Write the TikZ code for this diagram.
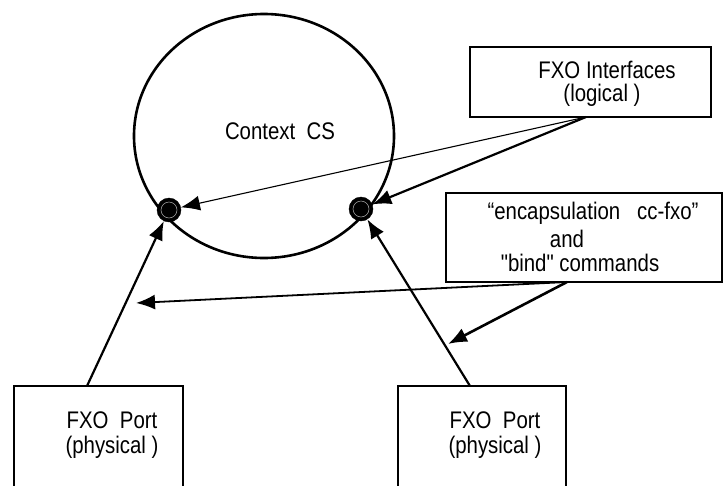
\documentclass[tikz,border=0pt]{standalone}
\usepackage{fontspec}
\setmainfont{Liberation Sans}[FakeStretch=0.85]
\newfontfamily\rawquote{Liberation Sans}[FakeStretch=0.85]
\usetikzlibrary{arrows.meta,shapes.geometric}
\tikzset{
  box/.style={draw,line width=1.7pt,rectangle,inner sep=0pt},
  lbl/.style={inner sep=0pt,font=\fontsize{24}{26}\selectfont},
  dotnode/.style={circle,fill=black,draw=black,minimum size=24pt,inner sep=0pt,
    path picture={\draw[gray!60,line width=0.5pt] (path picture bounding box.center) circle (8pt);}},
  arr/.style={-{Latex[length=19pt,width=15pt]},line width=2.2pt},
}
\begin{document}
\begin{tikzpicture}[x=1pt,y=-1pt]
\useasboundingbox (0,0) rectangle (723,485);
% context circle
\node[draw,ellipse,line width=2.6pt,minimum width=260pt,minimum height=244pt,inner sep=0pt] (ctx) at (264,136) {};
\node[lbl] (ctxl) at (280,131) {Context\ \ CS};
% FXO Interfaces box
\node[box,minimum width=241pt,minimum height=70pt] (ifc) at (590.5,82) {};
\node[lbl] (ifc1) at (607,70) {FXO Interfaces};
\node[lbl] (ifc2) at (602,95) {(logical )};
% encapsulation box
\node[box,minimum width=276pt,minimum height=89pt] (enc) at (584,237.5) {};
\node[lbl] (enc1) at (593,213) {“encapsulation\ \ \ cc-fxo”};
\node[lbl] (enc2) at (567,239) {and};
\node[lbl] (enc3) at (580,263) {{\rawquote"}bind{\rawquote"} commands};
% ports
\node[box,minimum width=169pt,minimum height=110pt] (p1) at (98.5,441) {};
\node[lbl] (p1a) at (112,420) {FXO\ \ Port};
\node[lbl] (p1b) at (112,447) {(physical )};
\node[box,minimum width=168pt,minimum height=110pt] (p2) at (482,441) {};
\node[lbl] (p2a) at (495,420) {FXO\ \ Port};
\node[lbl] (p2b) at (495,447) {(physical )};
% dots
\node[dotnode] (d1) at (169,210) {};
\node[dotnode] (d2) at (361,209) {};
% connector anchor points
\coordinate (p1t) at (87,386);
\coordinate (p2t) at (470,386);
\coordinate (ifcb) at (586,117);
\coordinate (encb) at (567,282);
\coordinate (encl) at (136,303);
\coordinate (encd) at (448,344);
% connectors
\draw[arr] (p1t) -- (d1);
\draw[arr] (p2t) -- (d2);
\draw[arr,line width=1.1pt] (ifcb) -- (d1);
\draw[arr] (ifcb) -- (d2);
\draw[arr,line width=1.8pt] (encb) -- (encl);
\draw[arr,line width=2.6pt] (encb) -- (encd);
\end{tikzpicture}
\end{document}
